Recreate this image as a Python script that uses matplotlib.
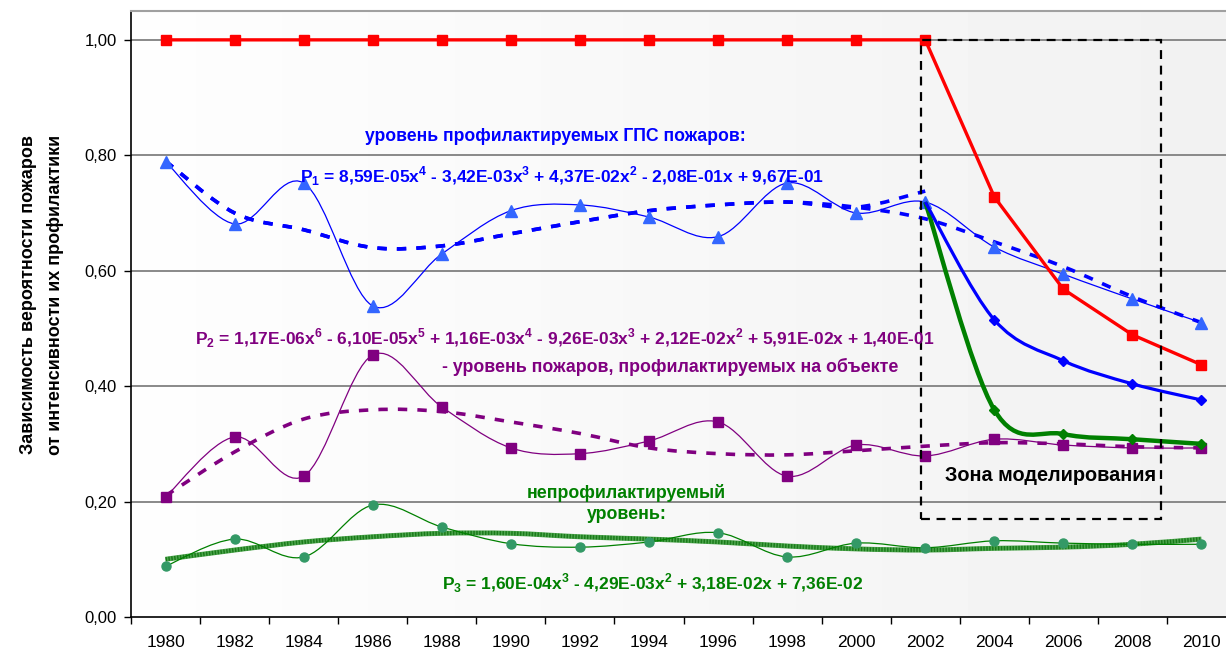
import numpy as np
import matplotlib
matplotlib.use("Agg")
import matplotlib.pyplot as plt
from matplotlib.path import Path
from matplotlib.patches import PathPatch, Rectangle

plt.rcParams['font.family'] = ['Liberation Sans', 'DejaVu Sans']
plt.rcParams['mathtext.fontset'] = 'custom'
plt.rcParams['mathtext.bf'] = 'Liberation Sans:bold'
plt.rcParams['mathtext.rm'] = 'Liberation Sans'

years = [str(y) for y in range(1980, 2011, 2)]

# total fire level (1.0 until 2002, modelled afterwards)
total = [1.0] * 12 + [0.728, 0.568, 0.489, 0.437]

# fires prevented by the state fire service
gps = [0.789, 0.681, 0.752, 0.539, 0.629, 0.704, 0.714, 0.693,
       0.659, 0.752, 0.700, 0.719, 0.641, 0.594, 0.551, 0.510]
gps_trend = [0.790, 0.700, 0.671, 0.640, 0.643, 0.664, 0.685, 0.704,
             0.714, 0.719, 0.710, 0.690, 0.650, 0.607, 0.555, 0.510]
gps_trend_early = [0.790, 0.700, 0.671, 0.640, 0.643, 0.664, 0.685, 0.704,
                   0.714, 0.719, 0.710, 0.738]

# fires prevented at the site
site = [0.208, 0.312, 0.244, 0.454, 0.364, 0.293, 0.283, 0.305,
        0.338, 0.244, 0.298, 0.279, 0.308, 0.298, 0.293, 0.293]
site_trend = [0.210, 0.286, 0.343, 0.359, 0.356, 0.338, 0.318, 0.293,
              0.283, 0.281, 0.288, 0.296, 0.302, 0.300, 0.295, 0.293]

# non-preventable level
nonprev = [0.088, 0.135, 0.104, 0.194, 0.156, 0.127, 0.121, 0.130,
           0.146, 0.104, 0.128, 0.120, 0.132, 0.128, 0.126, 0.126]
nonprev_trend = [0.100, 0.116, 0.130, 0.139, 0.145, 0.145, 0.139, 0.135,
                 0.130, 0.123, 0.118, 0.116, 0.119, 0.121, 0.126, 0.135]

# modelled curves from 2002 on
model_blue = [0.719, 0.515, 0.444, 0.404, 0.376]
model_green = [0.719, 0.359, 0.317, 0.308, 0.300]

yticks = [0.0, 0.2, 0.4, 0.6, 0.8, 1.0]


def smooth_path(xs, ys):
    # Bezier path through the points, like a smoothed spreadsheet line
    pts = np.column_stack([xs, ys]).astype(float)
    verts = [pts[0]]
    codes = [Path.MOVETO]
    n = len(pts)
    for i in range(n - 1):
        p0 = pts[i - 1] if i > 0 else pts[i]
        p1, p2 = pts[i], pts[i + 1]
        p3 = pts[i + 2] if i + 2 < n else pts[i + 1]
        verts += [p1 + (p2 - p0) / 6, p2 - (p3 - p1) / 6, p2]
        codes += [Path.CURVE4] * 3
    return Path(verts, codes)


def smooth_line(ax, xs, ys, zorder=3, **kw):
    ax.add_patch(PathPatch(smooth_path(xs, ys), fill=False,
                           capstyle='butt', zorder=zorder, **kw))


fig = plt.figure(figsize=(12.26, 6.52), dpi=100)
ax = fig.add_axes([131 / 1226, 35 / 652, 1105 / 1226, 606 / 652])

# soft horizontal background gradient
grad = np.linspace(0.995, 0.945, 256).reshape(1, -1)
ax.imshow(grad, cmap='gray', vmin=0, vmax=1, aspect='auto',
          extent=[0, 1, 0, 1], transform=ax.transAxes, zorder=0)

x = np.arange(len(years))
xm = x[11:]

ax.set_xlim(-0.5, len(years) - 0.5)
ax.set_ylim(0, 1.05)
for v in yticks[1:]:
    ax.axhline(v, color='#808080', lw=1.3, zorder=1)

# trend lines
smooth_line(ax, x, gps_trend, color='#0000ff', lw=2.6, linestyle=(0, (2.6, 2.8)))
smooth_line(ax, x[:12], gps_trend_early, color='#0000ff', lw=2.6,
            linestyle=(0, (2.6, 2.8)))
smooth_line(ax, x, site_trend, color='#800080', lw=2.6, linestyle=(0, (2.6, 2.8)))
smooth_line(ax, x, nonprev_trend, color='#4da64d', lw=3.6)
smooth_line(ax, x, nonprev_trend, color='#1a7a1a', lw=3.0, linestyle=(0, (0.35, 0.35)))

# observed series
smooth_line(ax, x, gps, color='#0000ff', lw=0.9)
ax.plot(x, gps, ls='none', marker='^', ms=8, color='#3366ff', zorder=5)
smooth_line(ax, x, site, color='#800080', lw=0.9)
ax.plot(x, site, ls='none', marker='s', ms=6.5, color='#800080', zorder=5)
smooth_line(ax, x, nonprev, color='#008000', lw=0.9)
ax.plot(x, nonprev, ls='none', marker='o', ms=6.5, color='#339966', zorder=5)

# modelled curves
smooth_line(ax, xm, model_green, color='#008000', lw=3.2, zorder=6)
ax.plot(xm[1:], model_green[1:], ls='none', marker='D', ms=5.5, color='#008000', zorder=7)
smooth_line(ax, xm, model_blue, color='#0000ff', lw=2.3, zorder=6)
ax.plot(xm[1:], model_blue[1:], ls='none', marker='D', ms=5.5, color='#0000ff', zorder=7)
ax.plot(x, total, color='#ff0000', lw=2.4, marker='s', ms=6.5, zorder=8)

# modelling zone
ax.add_patch(Rectangle((10.94, 0.170), 14.41 - 10.94, 1.0 - 0.170, fill=False,
                       ec='black', lw=1.6, ls=(0, (4, 3)), zorder=9))
ax.text(12.82, 0.246, 'Зона моделирования', fontsize=14.3, fontweight='bold',
        ha='center', va='center', color='black', zorder=10)

# series captions
fs = 12.55
ax.text(5.64, 0.832, 'уровень профилактируемых ГПС пожаров:', fontsize=12.7,
        fontweight='bold', color='#0000ff', ha='center', va='center', zorder=10)
ax.text(1.95, 0.764,
        r'P$_{\mathbf{1}}$ = 8,59E-05x$^{\mathbf{4}}$ - 3,42E-03x$^{\mathbf{3}}$'
        r' + 4,37E-02x$^{\mathbf{2}}$ - 2,08E-01x + 9,67E-01',
        fontsize=fs, fontweight='bold', color='#0000ff', ha='left', va='center', zorder=10)
ax.text(0.43, 0.4835,
        r'P$_{\mathbf{2}}$ = 1,17E-06x$^{\mathbf{6}}$ - 6,10E-05x$^{\mathbf{5}}$'
        r' + 1,16E-03x$^{\mathbf{4}}$ - 9,26E-03x$^{\mathbf{3}}$'
        r' + 2,12E-02x$^{\mathbf{2}}$ + 5,91E-02x + 1,40E-01',
        fontsize=12.5, fontweight='bold', color='#800080', ha='left', va='center', zorder=10)
ax.text(4.0, 0.433, '- уровень пожаров, профилактируемых на объекте', fontsize=12.75,
        fontweight='bold', color='#800080', ha='left', va='center', zorder=10)
ax.text(6.67, 0.215, 'непрофилактируемый', fontsize=12.8, fontweight='bold',
        color='#008000', ha='center', va='center', zorder=10)
ax.text(6.68, 0.177, 'уровень:', fontsize=12.8, fontweight='bold',
        color='#008000', ha='center', va='center', zorder=10)
ax.text(4.0, 0.059,
        r'P$_{\mathbf{3}}$ = 1,60E-04x$^{\mathbf{3}}$ - 4,29E-03x$^{\mathbf{2}}$'
        r' + 3,18E-02x + 7,36E-02',
        fontsize=fs, fontweight='bold', color='#008000', ha='left', va='center', zorder=10)

# axes
ax.set_yticks(yticks)
ax.set_yticklabels([f'{v:.2f}'.replace('.', ',') for v in yticks], fontsize=12)
ax.set_xticks(np.arange(-0.5, len(years), 1.0))
ax.set_xticklabels([])
ax.set_xticks(x, minor=True)
ax.set_xticklabels(years, minor=True, fontsize=12.5)
ax.tick_params(axis='x', which='major', length=5, width=1, direction='out')
ax.tick_params(axis='x', which='minor', length=0, pad=13)
ax.tick_params(axis='y', length=5, width=1, direction='out', pad=5)
ax.spines['left'].set_linewidth(1.2)
ax.spines['bottom'].set_linewidth(1.2)
ax.spines['top'].set_color('#a0a0a0')
ax.spines['top'].set_linewidth(1.5)
ax.spines['right'].set_visible(False)

fig.text(0.0345, 0.548, 'Зависимость вероятности пожаров\nот интенсивности их профилактики',
         rotation=90, ha='center', va='center', multialignment='center',
         fontsize=13, fontweight='bold', linespacing=1.75,
         family=['Liberation Sans Narrow', 'Liberation Sans', 'DejaVu Sans'])

fig.savefig('out.png', dpi=100)
